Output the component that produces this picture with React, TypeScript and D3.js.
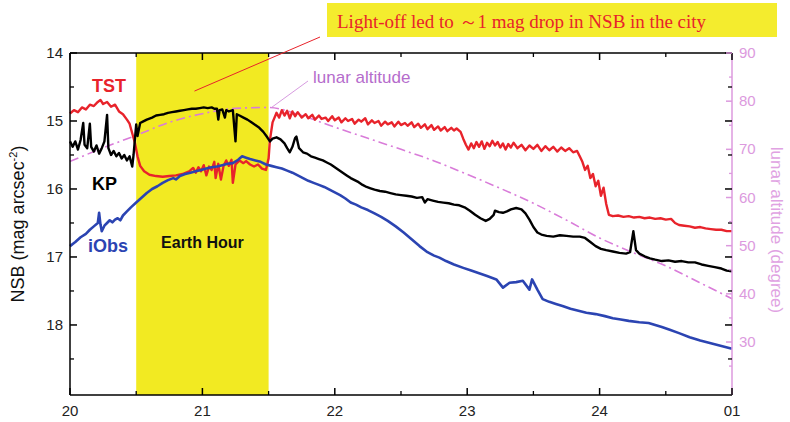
import React from "react";
import * as d3 from "d3";

const hourLabels = ["20", "21", "22", "23", "24", "01"];
const leftTicks = [14, 15, 16, 17, 18];
const rightTicks = [30, 40, 50, 60, 70, 80, 90];
const earthHour = [0.5, 1.5];

const tst: [number, number][] = [
[0.00,14.89],[0.03,14.84],[0.06,14.87],[0.09,14.80],[0.12,14.83],[0.15,14.76],[0.18,14.78],[0.21,14.72],[0.23,14.69],[0.25,14.75],[0.28,14.72],[0.31,14.79],[0.34,14.76],[0.37,14.86],[0.40,14.90],[0.43,14.98],[0.45,15.04],[0.47,15.18],[0.49,15.32],[0.51,15.52],[0.53,15.66],[0.56,15.74],[0.60,15.79],[0.65,15.81],[0.70,15.82],[0.75,15.81],[0.80,15.80],[0.85,15.78],[0.90,15.74],[0.93,15.69],[0.95,15.76],[0.97,15.68],[0.99,15.74],[1.01,15.65],[1.03,15.80],[1.05,15.67],[1.07,15.72],[1.09,15.60],[1.10,15.84],[1.12,15.63],[1.14,15.86],[1.16,15.66],[1.18,15.58],[1.20,15.66],[1.22,15.57],[1.23,15.91],[1.25,15.64],[1.28,15.58],[1.31,15.62],[1.33,15.59],[1.36,15.64],[1.39,15.67],[1.42,15.64],[1.45,15.70],[1.48,15.72],[1.50,15.55],[1.51,15.28],[1.53,15.02],[1.56,14.88],[1.58,14.95],[1.60,14.84],[1.62,14.92],[1.64,14.85],[1.66,14.96],[1.68,14.86],[1.70,14.93],[1.72,14.87],[1.75,14.95],
[1.78,14.90],[1.80,14.96],[1.83,14.91],[1.85,14.98],[1.88,14.92],[1.90,14.97],[1.93,14.95],[1.95,15.00],[1.98,14.93],[2.00,14.99],[2.03,14.95],[2.05,15.02],[2.08,14.96],[2.10,15.00],[2.13,14.97],[2.15,15.04],[2.18,14.98],[2.20,15.01],[2.23,14.96],[2.25,15.05],[2.28,14.99],[2.30,15.03],[2.33,15.00],[2.35,15.07],[2.38,15.01],[2.40,15.05],[2.43,15.02],[2.45,15.08],[2.48,15.01],[2.50,15.06],[2.53,15.03],[2.55,15.07],[2.58,15.02],[2.60,15.09],[2.63,15.04],[2.65,15.10],[2.68,15.05],[2.70,15.12],[2.73,15.06],[2.75,15.13],[2.78,15.08],[2.80,15.14],[2.83,15.09],[2.85,15.15],[2.88,15.10],[2.90,15.14],[2.92,15.11],[2.95,15.16],[2.97,15.26],[2.99,15.35],[3.01,15.42],[3.03,15.33],[3.05,15.40],[3.07,15.31],[3.09,15.38],[3.11,15.30],[3.13,15.41],[3.15,15.32],[3.17,15.37],[3.19,15.29],[3.21,15.36],[3.23,15.31],[3.25,15.39],[3.27,15.33],[3.29,15.42],[3.31,15.34],[3.33,15.39],[3.35,15.32],[3.38,15.40],[3.41,15.35],[3.44,15.43],[3.47,15.36],[3.50,15.41],[3.53,15.35],[3.56,15.44],[3.59,15.37],[3.62,15.43],[3.65,15.38],[3.68,15.45],[3.71,15.39],[3.74,15.44],[3.77,15.40],[3.80,15.46],[3.83,15.44],[3.85,15.52],[3.87,15.60],[3.89,15.72],[3.91,15.66],[3.93,15.84],[3.95,15.78],[3.97,15.96],[3.99,15.88],[4.01,16.10],[4.03,15.98],[4.05,16.22],[4.07,16.38],[4.10,16.40],[4.14,16.39],[4.18,16.41],[4.22,16.40],[4.26,16.42],[4.30,16.41],[4.34,16.43],[4.38,16.42],[4.42,16.44],[4.46,16.43],[4.50,16.45],[4.54,16.44],[4.57,16.50],[4.60,16.53],[4.64,16.54],[4.68,16.55],[4.72,16.57],[4.76,16.56],[4.80,16.58],[4.84,16.59],[4.88,16.60],[4.92,16.60],[4.96,16.62],[5.00,16.62]
];

const kp: [number, number][] = [
[0.00,15.30],[0.02,15.38],[0.04,15.30],[0.06,15.42],[0.08,15.28],[0.10,15.03],[0.11,15.35],[0.13,15.40],[0.15,15.04],[0.16,15.38],[0.18,15.45],[0.20,15.36],[0.22,15.48],[0.24,15.40],[0.26,15.30],[0.28,14.91],[0.29,15.40],[0.31,15.50],[0.33,15.44],[0.35,15.52],[0.37,15.47],[0.39,15.55],[0.41,15.50],[0.43,15.58],[0.45,15.52],[0.47,15.67],[0.48,15.50],[0.50,15.05],[0.51,15.22],[0.53,15.03],[0.55,15.01],[0.58,14.98],[0.62,14.95],[0.65,14.92],[0.68,14.91],[0.71,14.90],[0.74,14.88],[0.77,14.87],[0.80,14.86],[0.83,14.85],[0.86,14.84],[0.89,14.83],[0.92,14.82],[0.95,14.82],[0.98,14.81],[1.01,14.80],[1.04,14.81],[1.07,14.80],[1.09,14.82],[1.11,14.82],[1.12,14.98],[1.13,14.84],[1.15,14.83],[1.17,14.95],[1.18,14.84],[1.20,14.86],[1.23,14.84],[1.25,15.30],[1.26,14.90],[1.28,14.92],[1.31,14.95],[1.34,14.98],[1.37,15.02],[1.40,15.06],[1.43,15.10],[1.46,15.16],[1.49,15.24],[1.51,15.30],[1.53,15.26],[1.56,15.24],[1.59,15.27],[1.62,15.33],[1.64,15.40],[1.66,15.46],[1.68,15.38],[1.70,15.25],[1.71,15.23],[1.73,15.40],[1.76,15.46],[1.79,15.48],[1.82,15.52],[1.85,15.54],[1.88,15.56],[1.91,15.58],[1.94,15.61],[1.97,15.64],[2.00,15.68],[2.03,15.72],[2.06,15.76],[2.09,15.80],[2.12,15.84],[2.15,15.87],[2.18,15.90],[2.21,15.94],[2.24,15.97],[2.27,15.99],[2.30,16.01],[2.34,16.03],[2.38,16.04],[2.42,16.06],[2.46,16.08],[2.50,16.09],[2.54,16.10],[2.58,16.11],[2.62,16.13],[2.66,16.12],[2.68,16.20],[2.70,16.15],[2.74,16.17],[2.78,16.19],[2.82,16.20],[2.86,16.21],[2.90,16.23],[2.94,16.24],[2.98,16.27],[3.02,16.32],[3.06,16.38],[3.10,16.43],[3.14,16.47],[3.17,16.44],[3.20,16.38],[3.21,16.32],[3.24,16.34],[3.27,16.35],[3.30,16.33],[3.33,16.30],[3.37,16.28],[3.41,16.30],[3.44,16.36],[3.47,16.45],[3.50,16.56],[3.53,16.64],[3.56,16.67],[3.60,16.69],[3.65,16.70],[3.70,16.68],[3.75,16.69],[3.80,16.70],[3.85,16.70],[3.89,16.72],[3.93,16.78],[3.97,16.84],[4.01,16.88],[4.05,16.90],[4.10,16.92],[4.15,16.94],[4.20,16.95],[4.23,16.93],[4.255,16.62],[4.275,16.90],[4.30,16.95],[4.34,16.99],[4.38,17.02],[4.42,17.04],[4.47,17.06],[4.52,17.05],[4.57,17.07],[4.62,17.06],[4.67,17.08],[4.72,17.08],[4.77,17.11],[4.82,17.13],[4.87,17.15],[4.92,17.17],[4.96,17.20],[5.00,17.21]
];

const iobs: [number, number][] = [
[0.00,16.84],[0.04,16.78],[0.08,16.71],[0.12,16.66],[0.15,16.60],[0.18,16.55],[0.21,16.50],[0.22,16.35],[0.23,16.52],[0.24,16.62],[0.26,16.54],[0.28,16.50],[0.30,16.46],[0.32,16.49],[0.34,16.45],[0.36,16.43],[0.38,16.46],[0.40,16.39],[0.43,16.33],[0.46,16.27],[0.50,16.20],[0.54,16.13],[0.58,16.06],[0.62,16.00],[0.66,15.96],[0.70,15.91],[0.74,15.87],[0.78,15.84],[0.80,15.86],[0.83,15.81],[0.87,15.78],[0.91,15.76],[0.95,15.74],[0.99,15.72],[1.03,15.70],[1.07,15.68],[1.11,15.67],[1.15,15.65],[1.19,15.63],[1.23,15.62],[1.27,15.57],[1.30,15.52],[1.33,15.54],[1.36,15.56],[1.40,15.58],[1.44,15.60],[1.48,15.64],[1.52,15.66],[1.56,15.68],[1.60,15.70],[1.64,15.73],[1.68,15.76],[1.72,15.80],[1.76,15.84],[1.80,15.88],[1.84,15.91],[1.88,15.94],[1.92,15.97],[1.96,16.01],[2.00,16.05],[2.04,16.09],[2.08,16.14],[2.12,16.20],[2.16,16.23],[2.20,16.27],[2.25,16.31],[2.30,16.36],[2.35,16.41],[2.40,16.47],[2.46,16.55],[2.52,16.64],[2.58,16.74],[2.64,16.84],[2.70,16.93],[2.75,16.98],[2.79,17.01],[2.84,17.06],[2.90,17.11],[2.97,17.16],[3.03,17.20],[3.09,17.24],[3.15,17.28],[3.22,17.33],[3.27,17.45],[3.32,17.38],[3.37,17.37],[3.42,17.35],[3.47,17.48],[3.49,17.33],[3.53,17.48],[3.57,17.62],[3.62,17.66],[3.67,17.69],[3.72,17.72],[3.78,17.76],[3.84,17.79],[3.90,17.82],[3.97,17.84],[4.04,17.87],[4.10,17.90],[4.16,17.92],[4.22,17.94],[4.30,17.96],[4.37,17.97],[4.42,18.00],[4.47,18.03],[4.53,18.07],[4.60,18.12],[4.68,18.18],[4.76,18.23],[4.84,18.27],[4.92,18.31],[5.00,18.35]
];

const lunarTimes = [0, 0.25, 0.5, 0.75, 1.0, 1.25, 1.5, 1.75, 2.0, 2.25, 2.5, 2.75, 3.0, 3.25, 3.5, 3.75, 4.0, 4.25, 4.5, 4.75, 5.0];
const lunarAlt = [67.5, 70.3, 72.9, 75.6, 77.4, 78.5, 78.7, 77.0, 74.6, 72.3, 70.0, 67.6, 64.8, 61.9, 58.8, 55.3, 51.6, 48.6, 45.8, 42.4, 39.0];

const L = 70, R = 732, T = 53, B = 395;
const RED = "#e8232b", BLUE = "#2b44b2", PINK = "#dc9ade", LUNAR = "#d97cd9";

export default function App() {
  const x = d3.scaleLinear().domain([0, 5]).range([L, R]);
  const y = d3.scaleLinear().domain([14, 19.03]).range([T, B]);
  const yR = d3.scaleLinear().domain([19, 90]).range([B, T]);

  const line = d3.line<[number, number]>().x(d => x(d[0])).y(d => y(d[1]));
  const lunarLine = d3.line<number>().x((_, i) => x(lunarTimes[i])).y(d => yR(d)).curve(d3.curveMonotoneX);

  const majorX = d3.range(0, 5.01, 1);
  const minorX = d3.range(0.5, 5, 1);
  const leftMinor = d3.range(14.5, 19, 1);
  const rightMinor = d3.range(25, 90, 10);
  const sans = "Liberation Sans, Arial, sans-serif";

  const peakT = 1.5;
  const peakAlt = lunarAlt[lunarTimes.indexOf(peakT)];

  return (
    <svg width={790} height={422} style={{ position: "absolute", left: 0, top: 0, background: "#fff" }} fontFamily={sans}>
      {/* Earth hour band */}
      <rect x={x(earthHour[0])} y={T} width={x(earthHour[1]) - x(earthHour[0])} height={B - T} fill="#f2ea22" />
      <text x={(x(earthHour[0]) + x(earthHour[1])) / 2} y={248} textAnchor="middle" fontSize={16} fontWeight="bold" fill="#111">Earth Hour</text>

      {/* lunar altitude */}
      <path d={lunarLine(lunarAlt) || ""} fill="none" stroke={LUNAR} strokeWidth={1.6} strokeDasharray="9,4,2,4" />

      {/* series */}
      <path d={line(tst) || ""} fill="none" stroke={RED} strokeWidth={2.4} strokeLinejoin="round" />
      <path d={line(iobs) || ""} fill="none" stroke={BLUE} strokeWidth={2.6} strokeLinejoin="round" />
      <path d={line(kp) || ""} fill="none" stroke="#000" strokeWidth={2.4} strokeLinejoin="round" />

      {/* frame */}
      <line x1={L} y1={T} x2={R} y2={T} stroke="#000" strokeWidth={1.5} />
      <line x1={L} y1={B} x2={R} y2={B} stroke="#000" strokeWidth={1.5} />
      <line x1={L} y1={T} x2={L} y2={B} stroke="#000" strokeWidth={1.5} />
      <line x1={R} y1={T} x2={R} y2={B} stroke={PINK} strokeWidth={1.5} />

      {/* x ticks */}
      {majorX.map(t => (
        <g key={"mx" + t}>
          <line x1={x(t)} x2={x(t)} y1={B} y2={B - 7} stroke="#000" strokeWidth={1.5} />
          <line x1={x(t)} x2={x(t)} y1={T} y2={T + 7} stroke="#000" strokeWidth={1.5} />
        </g>
      ))}
      {minorX.map(t => (
        <g key={"nx" + t}>
          <line x1={x(t)} x2={x(t)} y1={B} y2={B - 4} stroke="#000" strokeWidth={1.3} />
          <line x1={x(t)} x2={x(t)} y1={T} y2={T + 4} stroke="#000" strokeWidth={1.3} />
        </g>
      ))}
      {majorX.map((t, i) => (
        <text key={"lx" + t} x={x(t)} y={416} textAnchor="middle" fontSize={15} fill="#222">{hourLabels[i]}</text>
      ))}

      {/* left axis */}
      {leftTicks.map(v => (
        <g key={"ly" + v}>
          <line x1={L} x2={L + 7} y1={y(v)} y2={y(v)} stroke="#000" strokeWidth={1.5} />
          <line x1={R} x2={R - 7} y1={y(v)} y2={y(v)} stroke="#000" strokeWidth={1.5} />
          <text x={63} y={y(v) + 5} textAnchor="end" fontSize={15} fill="#222">{v}</text>
        </g>
      ))}
      {leftMinor.map(v => (
        <g key={"lm" + v}>
          <line x1={L} x2={L + 4} y1={y(v)} y2={y(v)} stroke="#000" strokeWidth={1.3} />
          <line x1={R} x2={R - 4} y1={y(v)} y2={y(v)} stroke="#000" strokeWidth={1.3} />
        </g>
      ))}
      <text transform={`translate(24,${(T + B) / 2}) rotate(-90)`} textAnchor="middle" fontSize={18} fill="#111">
        NSB (mag arcsec<tspan fontSize={11} dy={-7}>-2</tspan><tspan dy={7}>)</tspan>
      </text>

      {/* right axis */}
      {rightTicks.map(v => (
        <g key={"ry" + v}>
          <line x1={R} x2={R - 6} y1={yR(v)} y2={yR(v)} stroke={PINK} strokeWidth={1.5} />
          <text x={739} y={yR(v) + 5} fontSize={15} fill={PINK}>{v}</text>
        </g>
      ))}
      {rightMinor.map(v => (
        <line key={"rm" + v} x1={R} x2={R - 3} y1={yR(v)} y2={yR(v)} stroke={PINK} strokeWidth={1.3} />
      ))}
      <text transform={`translate(771,${(T + B) / 2 + 6}) rotate(90)`} textAnchor="middle" fontSize={17} fill="#e0a2e2">lunar altitude (degree)</text>

      {/* series labels */}
      <text x={92} y={92} fontSize={18} fontWeight="bold" fill={RED}>TST</text>
      <text x={92} y={190} fontSize={18} fontWeight="bold" fill="#000">KP</text>
      <text x={88} y={252} fontSize={18} fontWeight="bold" fill={BLUE}>iObs</text>
      <text x={313} y={83} fontSize={17} fill="#b56ccc">lunar altitude</text>
      <line x1={308} y1={81} x2={x(peakT) + 3} y2={yR(peakAlt)} stroke="#d79be0" strokeWidth={1} />

      {/* annotation */}
      <rect x={327} y={3} width={450} height={34} fill="#f4ec2e" />
      <text x={337} y={28} fontSize={19} fontFamily="Liberation Serif, Times New Roman, serif" fill={RED}>Light-off led to ～1 mag drop in NSB in the city</text>
      <line x1={320} y1={37} x2={x(0.94)} y2={y(14.56)} stroke={RED} strokeWidth={1} />
    </svg>
  );
}
